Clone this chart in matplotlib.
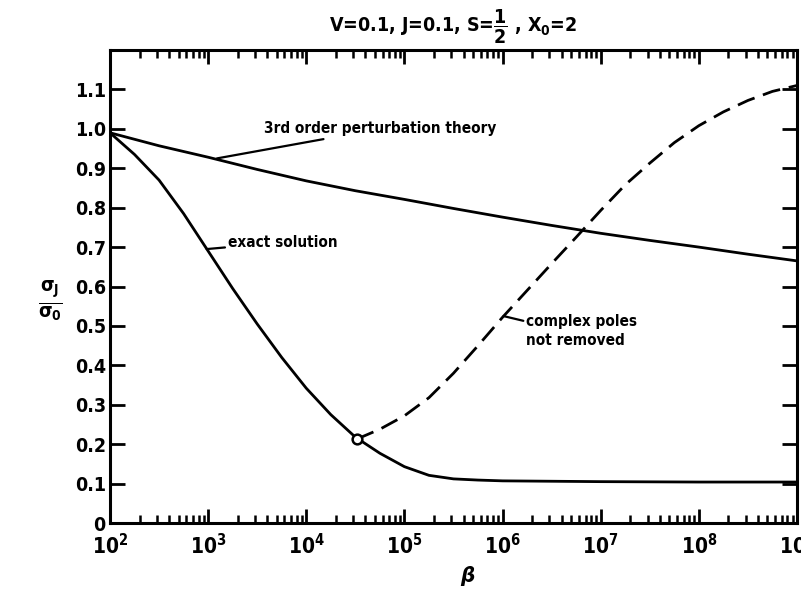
import numpy as np
import matplotlib
matplotlib.use("Agg")
import matplotlib.pyplot as plt
from matplotlib.ticker import LogLocator, FixedLocator, NullFormatter

plt.rcParams['font.family'] = ['DejaVu Sans']
plt.rcParams['font.stretch'] = 'condensed'
plt.rcParams['font.weight'] = 'bold'
plt.rcParams['mathtext.fontset'] = 'dejavusans'
plt.rcParams['mathtext.default'] = 'bf'

# data (log10 beta, sigma_J/sigma_0)
pert_logb = [2.0, 2.5, 3.0, 3.5, 4.0, 4.5, 5.0, 5.5, 6.0, 6.5, 7.0, 7.5, 8.0, 8.5, 9.0]
pert_val = [0.99, 0.957, 0.928, 0.897, 0.868, 0.843, 0.821, 0.798, 0.776, 0.755, 0.735, 0.717, 0.700, 0.682, 0.665]

exact_logb = [2.0, 2.25, 2.5, 2.75, 3.0, 3.25, 3.5, 3.75, 4.0, 4.25, 4.5, 4.75, 5.0, 5.25, 5.5, 5.75, 6.0, 6.5, 7.0, 8.0, 9.0]
exact_val = [0.99, 0.935, 0.87, 0.785, 0.69, 0.595, 0.505, 0.42, 0.342, 0.275, 0.218, 0.177, 0.143, 0.121, 0.112, 0.109, 0.107, 0.106, 0.105, 0.104, 0.104]

poles_logb = [4.515, 4.75, 5.0, 5.25, 5.5, 5.75, 6.0, 6.25, 6.5, 6.75, 7.0, 7.25, 7.5, 7.75, 8.0, 8.25, 8.5, 8.75, 9.0]
poles_val = [0.213, 0.238, 0.272, 0.318, 0.38, 0.45, 0.522, 0.59, 0.658, 0.725, 0.793, 0.858, 0.913, 0.965, 1.008, 1.043, 1.072, 1.095, 1.11]

branch_logb = 4.515
branch_val = 0.213

yticks = [0, 0.1, 0.2, 0.3, 0.4, 0.5, 0.6, 0.7, 0.8, 0.9, 1.0, 1.1]
yticklabels = ['0', '0.1', '0.2', '0.3', '0.4', '0.5', '0.6', '0.7', '0.8', '0.9', '1.0', '1.1']
xdecades = [2, 3, 4, 5, 6, 7, 8, 9]

fig = plt.figure(figsize=(8.01, 5.91), dpi=100)
ax = fig.add_axes([0.1373, 0.115, 0.8577, 0.8004])

b = lambda l: 10.0 ** np.asarray(l)

ax.plot(b(pert_logb), pert_val, color='black', lw=2.0, solid_capstyle='round', solid_joinstyle='round')
ax.plot(b(exact_logb), exact_val, color='black', lw=2.0, solid_capstyle='round', solid_joinstyle='round')
ax.plot(b(poles_logb), poles_val, color='black', lw=2.0, dashes=(6.5, 3.2))
ax.plot([b(branch_logb)], [branch_val], marker='o', ms=7, mfc='white', mec='black', mew=1.8, zorder=5)

ax.set_xscale('log')
ax.set_xlim(1e2, 1e9)
ax.set_ylim(0, 1.2)

ax.xaxis.set_major_locator(FixedLocator([10.0 ** d for d in xdecades]))
ax.set_xticklabels([r'$10^{%d}$' % d for d in xdecades])
ax.xaxis.set_minor_locator(LogLocator(base=10, subs=np.arange(2, 10), numticks=20))
ax.xaxis.set_minor_formatter(NullFormatter())
ax.set_yticks(yticks)
ax.set_yticklabels(yticklabels)

ax.tick_params(axis='x', which='major', direction='in', length=10, width=2, top=True, labelsize=15, pad=7)
ax.tick_params(axis='x', which='minor', direction='in', length=5.5, width=1.8, top=True)
ax.tick_params(axis='y', which='major', direction='in', length=11, width=2, right=True, labelsize=14, pad=3)
for s in ax.spines.values():
    s.set_linewidth(2.2)

ax.set_title(r'V=0.1, J=0.1, S=$\dfrac{1}{2}$ , X$_0$=2', fontsize=14, fontweight='bold', pad=12)
ax.set_xlabel('β', fontsize=16, fontstyle='italic', fontweight='bold')
ax.xaxis.set_label_coords(0.52, -0.09)
ax.set_ylabel(r'$\frac{\sigma_J}{\sigma_0}$', fontsize=20, rotation=0, va='center', ha='center')
ax.yaxis.set_label_coords(-0.087, 0.47)

ax.annotate('3rd order perturbation theory', xy=(b(3.09), 0.925), xytext=(b(3.57), 1.0),
            fontsize=11, fontweight='bold', va='center', ha='left',
            arrowprops=dict(arrowstyle='-', color='black', lw=1.6, shrinkA=0, shrinkB=0))
ax.annotate('exact solution', xy=(b(2.985), 0.695), xytext=(b(3.2), 0.712),
            fontsize=11, fontweight='bold', va='center', ha='left',
            arrowprops=dict(arrowstyle='-', color='black', lw=1.6, shrinkA=0, shrinkB=0))
ax.annotate('complex poles\nnot removed', xy=(b(6.01), 0.525), xytext=(b(6.24), 0.487),
            fontsize=11, fontweight='bold', va='center', ha='left', linespacing=1.35,
            arrowprops=dict(arrowstyle='-', color='black', lw=1.6, shrinkA=0, shrinkB=0, relpos=(0, 0.78)))

fig.savefig('out.png', dpi=100)
